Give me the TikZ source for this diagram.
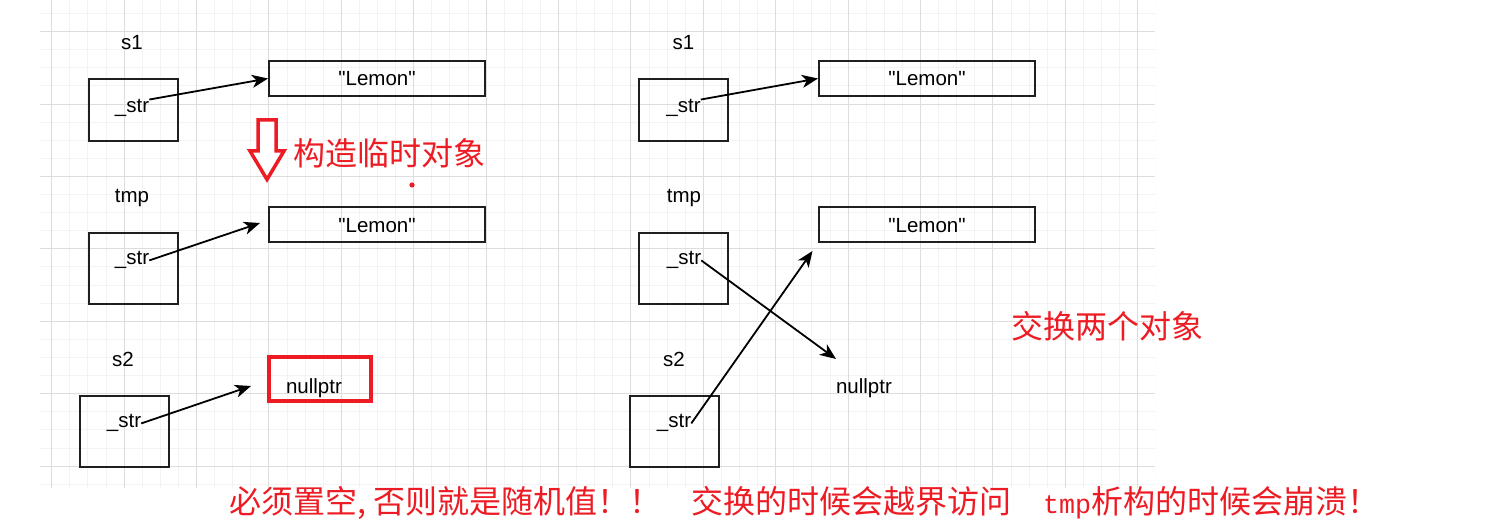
\documentclass[tikz,border=0pt]{standalone}
\usepackage{fontspec}
\setmainfont{Liberation Sans}
\newfontfamily\arialf{Liberation Sans}
\newfontfamily\cjk{Noto Sans CJK SC}
\newfontfamily\monof{Liberation Mono}
\usetikzlibrary{arrows.meta}
\definecolor{redc}{RGB}{237,28,36}
\definecolor{gmaj}{RGB}{221,221,221}
\definecolor{gmin}{RGB}{243,243,243}
\begin{document}
\begin{tikzpicture}[x=1pt,y=-1pt,
  ptrbox/.style={draw=black!88, line width=2pt, inner sep=0pt, minimum width=89pt},
  strbox/.style={draw=black!88, line width=2pt, inner sep=0pt, minimum width=216pt, minimum height=35pt},
  lbl/.style={inner sep=0pt, anchor=base, font=\arialf\fontsize{20.5}{24}\selectfont},
  cjklbl/.style={inner sep=0pt, anchor=west, text=redc, font=\cjk\fontsize{32}{36}\selectfont},
  ptr/.style={draw=black, line width=1.8pt, -{Stealth[length=16pt,width=13pt,inset=4.5pt]}},
  gridmin/.style={draw=gmin, line width=1pt},
  gridmaj/.style={draw=gmaj, line width=1pt}]
\useasboundingbox (0,0) rectangle (1486,526);
\fill[white] (0,0) rectangle (1486,526);
% grid
\begin{scope}
\clip (40,0) rectangle (1155,488);
\foreach \k in {-1,...,61} \draw[gridmin] ({51.7+18.1*\k},0) -- ({51.7+18.1*\k},488);
\foreach \k in {-2,...,26} \draw[gridmin] (40,{31.7+18.1*\k}) -- (1155,{31.7+18.1*\k});
\foreach \k in {0,...,15} \draw[gridmaj] ({51.7+72.4*\k},0) -- ({51.7+72.4*\k},488);
\foreach \k in {0,...,6} \draw[gridmaj] (40,{31.7+72.4*\k}) -- (1155,{31.7+72.4*\k});
\end{scope}

% ---------- left panel ----------
\node[lbl] (s1lab) at (132,50) {s1};
\node[ptrbox, minimum height=62pt] (s1box) at (133.5,110) {};
\node[lbl] (s1str) at (132,113) {\_str};
\node[strbox] (L1) at (377,78.5) {};
\node[lbl] (L1txt) at (377,86) {"Lemon"};

\node[lbl] (tmplab) at (132,203) {tmp};
\node[ptrbox, minimum height=71pt] (tmpbox) at (133.5,268.5) {};
\node[lbl] (tmpstr) at (132,265) {\_str};
\node[strbox] (L2) at (377,225) {};
\node[lbl] (L2txt) at (377,233) {"Lemon"};

\node[lbl] (s2lab) at (123,367) {s2};
\node[ptrbox, minimum height=71pt] (s2box) at (124.5,431.5) {};
\node[lbl] (s2str) at (124,428) {\_str};
\node[draw=redc, line width=4pt, inner sep=0pt, minimum width=102.6pt, minimum height=44.6pt] (nullbox) at (320,379) {};
\node[lbl] (nulltxt) at (314,394) {nullptr};

\coordinate (a2end) at (260,223);
\coordinate (a3end) at (251,386);
\draw[ptr] (s1str.north east) -- (L1.west);
\draw[ptr] (tmpstr.east) -- (a2end);
\draw[ptr] (s2str.east) -- (a3end);

% red block arrow and dot
\draw[redc, line width=3.5pt, fill=white, line join=miter]
  (258,120) -- (276,120) -- (276,151) -- (284,151) -- (267,179.5) -- (250,151) -- (258,151) -- cycle;
\fill[redc] (412,185) circle (2.6pt);
\node[cjklbl] (t1) at (293,153) {构造临时对象};

% ---------- right panel ----------
\node[lbl] (rs1lab) at (683.5,50) {s1};
\node[ptrbox, minimum height=62pt] (rs1box) at (683,110) {};
\node[lbl] (rs1str) at (683.5,113) {\_str};
\node[strbox] (rL1) at (927,78.5) {};
\node[lbl] (rL1txt) at (927,86) {"Lemon"};

\node[lbl] (rtmplab) at (684,203) {tmp};
\node[ptrbox, minimum height=71pt] (rtmpbox) at (683,268.5) {};
\node[lbl] (rtmpstr) at (684,265) {\_str};
\node[strbox] (rL2) at (927,225) {};
\node[lbl] (rL2txt) at (927,233) {"Lemon"};

\node[lbl] (rs2lab) at (674,367) {s2};
\node[ptrbox, minimum height=71pt] (rs2box) at (674.5,431.5) {};
\node[lbl] (rs2str) at (674,428) {\_str};
\node[lbl] (rnulltxt) at (864,394) {nullptr};

\coordinate (b2end) at (836,359);
\coordinate (b3end) at (812.5,251);
\draw[ptr] (rs1str.north east) -- (rL1.west);
\draw[ptr] (rtmpstr.east) -- (b2end);
\draw[ptr] (rs2str.east) -- (b3end);

\node[cjklbl] (t2) at (1011,326) {交换两个对象};

% bottom note
\node[cjklbl] (t3) at (229,503) {必须置空\makebox[16pt][l]{,}否则就是随机值！！\hspace{30pt}交换的时候会越界访问\hspace{32pt}\makebox[48pt][l]{\monof\fontsize{26.7}{30}\selectfont tmp}析构的时候会崩溃！};
\end{tikzpicture}
\end{document}
